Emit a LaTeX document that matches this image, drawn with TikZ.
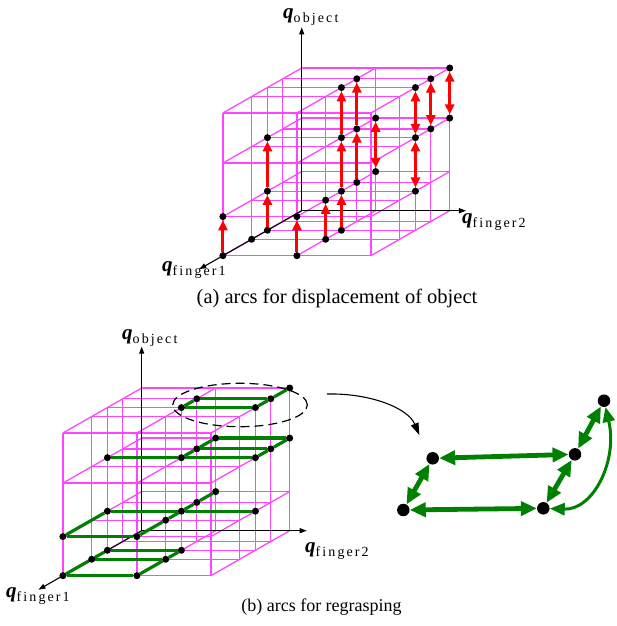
\documentclass[tikz,border=0pt]{standalone}
\usepackage{fontspec}
\setmainfont{Liberation Serif}
\newfontfamily\subfont[LetterSpace=15]{Liberation Serif}
\usetikzlibrary{arrows.meta,shapes.geometric}
\definecolor{gridpink}{RGB}{255,70,255}
\definecolor{arcgreen}{RGB}{0,128,0}
% levels of the lattice along each axis
\newcommand\levA[1]{\ifcase#1 0\or 0.24\or 0.435\or 0.635\or 1\fi}% finger1 (depth)
\newcommand\levB[1]{\ifcase#1 0\or 0.5\or 1\fi}% finger2
\newcommand\levC[1]{\ifcase#1 0\or 0.274\or 0.649\or 1\fi}% object
% lattice point: name, finger1 index, finger2 index, object index
\newcommand\latpt[4]{\node[latdot] (#1) at (\levB{#3},\levC{#4},\levA{#2}) {};}
\newcommand\drawlattice{%
  \foreach \i in {0,...,4}{\foreach \k in {0,...,3}{%
    \draw[gridline] (0,\levC\k,\levA\i) -- (1,\levC\k,\levA\i);}}%
  \foreach \j in {0,1,2}{\foreach \k in {0,...,3}{%
    \draw[gridline] (\levB\j,\levC\k,0) -- (\levB\j,\levC\k,1);}}%
  \foreach \i in {0,...,4}{\foreach \j in {0,1,2}{%
    \draw[gridline] (\levB\j,0,\levA\i) -- (\levB\j,1,\levA\i);}}%
}
\newcommand\qsub[1]{{\fontsize{21}{21}\selectfont\bfseries\itshape q}{\subfont\fontsize{14}{14}\selectfont\raisebox{-4pt}{#1}}}
\begin{document}
\begin{tikzpicture}[x=1pt,y=-1pt,
  gridline/.style={draw=gridpink,line width=1.3pt},
  axisline/.style={draw=black,line width=1.1pt,-{Triangle[length=7pt,width=5pt]}},
  latdot/.style={circle,fill=black,inner sep=0pt,minimum size=7pt},
  bigdot/.style={circle,fill=black,inner sep=0pt,minimum size=12.5pt},
  uparc/.style={draw=red,line width=3pt,-{Triangle[length=10pt,width=9pt]}},
  botharc/.style={draw=red,line width=3pt,{Triangle[length=10pt,width=9pt]}-{Triangle[length=10pt,width=9pt]}},
  grasparc/.style={draw=arcgreen,line width=3.2pt},
  bigarc/.style={draw=arcgreen,line width=4.8pt,{Triangle[length=16pt,width=14pt]}-{Triangle[length=16pt,width=14pt]}},
  bendarc/.style={draw=arcgreen,line width=3pt,{Triangle[length=15pt,width=12pt]}-{Triangle[length=15pt,width=12pt]}},
  qlabel/.style={anchor=base west,inner sep=0pt},
  caption/.style={anchor=base,inner sep=0pt}
]
\useasboundingbox (0,0) rectangle (616,626);

% ---------- (a) displacement of the object ----------
\begin{scope}[shift={(301.7pt,-210.7pt)},x={(148pt,0pt)},y={(0pt,142.7pt)},z={(-78.8pt,-45pt)}]
  \drawlattice
  \coordinate (tO) at (0,0,0);
  \coordinate (tObj) at (0,1.285,0);
  \coordinate (tF2) at (1.11,0,0);
  \coordinate (tF1) at (0,0,1.3);
  \draw[axisline] (tO) -- (tObj);
  \draw[axisline] (tO) -- (tF2);
  \draw[axisline] (tO) -- (tF1);
  \latpt{t400}{4}{0}{0}\latpt{t401}{4}{0}{1}
  \latpt{t300}{3}{0}{0}
  \latpt{t200}{2}{0}{0}\latpt{t201}{2}{0}{1}\latpt{t202}{2}{0}{2}
  \latpt{t410}{4}{1}{0}\latpt{t411}{4}{1}{1}
  \latpt{t310}{3}{1}{0}\latpt{t311}{3}{1}{1}
  \latpt{t210}{2}{1}{0}\latpt{t211}{2}{1}{1}\latpt{t212}{2}{1}{2}\latpt{t213}{2}{1}{3}
  \latpt{t111}{1}{1}{1}\latpt{t112}{1}{1}{2}\latpt{t113}{1}{1}{3}
  \latpt{t011}{0}{1}{1}\latpt{t012}{0}{1}{2}
  \latpt{t221}{2}{2}{1}\latpt{t222}{2}{2}{2}\latpt{t223}{2}{2}{3}
  \latpt{t122}{1}{2}{2}\latpt{t123}{1}{2}{3}
  \latpt{t022}{0}{2}{2}\latpt{t023}{0}{2}{3}
  \draw[uparc] (t400) -- (t401);
  \draw[uparc] (t200) -- (t201);
  \draw[uparc] (t201) -- (t202);
  \draw[uparc] (t410) -- (t411);
  \draw[uparc] (t310) -- (t311);
  \draw[uparc] (t210) -- (t211);
  \draw[uparc] (t211) -- (t212);
  \draw[uparc] (t212) -- (t213);
  \draw[uparc] (t111) -- (t112);
  \draw[uparc] (t112) -- (t113);
  \draw[botharc] (t011) -- (t012);
  \draw[botharc] (t221) -- (t222);
  \draw[botharc] (t222) -- (t223);
  \draw[botharc] (t122) -- (t123);
  \draw[botharc] (t022) -- (t023);
\end{scope}

% ---------- (b) regrasping ----------
\begin{scope}[shift={(141.7pt,-530.7pt)},x={(148pt,0pt)},y={(0pt,142.7pt)},z={(-78.8pt,-45pt)}]
  \drawlattice
  \coordinate (bO) at (0,0,0);
  \coordinate (bObj) at (0,1.29,0);
  \coordinate (bF2) at (1.115,0,0);
  \coordinate (bF1) at (0,0,1.31);
  \draw[axisline] (bO) -- (bObj);
  \draw[axisline] (bO) -- (bF2);
  \draw[axisline] (bO) -- (bF1);
  \latpt{b400}{4}{0}{0}\latpt{b410}{4}{1}{0}\latpt{b300}{3}{0}{0}
  \latpt{b310}{3}{1}{0}\latpt{b200}{2}{0}{0}\latpt{b210}{2}{1}{0}
  \latpt{b401}{4}{0}{1}\latpt{b411}{4}{1}{1}\latpt{b311}{3}{1}{1}
  \latpt{b211}{2}{1}{1}\latpt{b201}{2}{0}{1}\latpt{b111}{1}{1}{1}
  \latpt{b011}{0}{1}{1}\latpt{b221}{2}{2}{1}
  \latpt{b202}{2}{0}{2}\latpt{b212}{2}{1}{2}\latpt{b112}{1}{1}{2}
  \latpt{b012}{0}{1}{2}\latpt{b222}{2}{2}{2}\latpt{b122}{1}{2}{2}
  \latpt{b022}{0}{2}{2}
  \latpt{b113}{1}{1}{3}\latpt{b213}{2}{1}{3}\latpt{b223}{2}{2}{3}
  \latpt{b123}{1}{2}{3}\latpt{b023}{0}{2}{3}
  % object level 0
  \draw[grasparc] (b400) -- (b410);
  \draw[grasparc] (b300) -- (b310);
  \draw[grasparc] (b200) -- (b210);
  \draw[grasparc] (b400) -- (b300) -- (b200);
  \draw[grasparc] (b410) -- (b310) -- (b210);
  % object level 1
  \draw[grasparc] (b401) -- (b411);
  \draw[grasparc] (b201) -- (b211) -- (b221);
  \draw[grasparc] (b401) -- (b201);
  \draw[grasparc] (b411) -- (b311) -- (b211) -- (b111) -- (b011);
  % object level 2
  \draw[grasparc] (b202) -- (b212) -- (b222);
  \draw[grasparc] (b112) -- (b122);
  \draw[grasparc] (b012) -- (b022);
  \draw[grasparc] (b212) -- (b112) -- (b012);
  \draw[grasparc] (b222) -- (b122) -- (b022);
  % object level 3
  \draw[grasparc] (b213) -- (b223);
  \draw[grasparc] (b113) -- (b123);
  \draw[grasparc] (b213) -- (b113);
  \draw[grasparc] (b223) -- (b123) -- (b023);
\end{scope}

% selection of the top level and its enlarged view
\node[draw,ellipse,line width=1.2pt,dash pattern=on 9pt off 5pt,
      minimum width=134.6pt,minimum height=43.4pt,inner sep=0pt] (sel) at (240,405) {};
\coordinate (zs) at (327,394);
\coordinate (ze) at (419.3,435);
\draw[line width=1.1pt,-{Triangle[length=12pt,width=8pt]}] (zs) .. controls (370,393) and (408,408) .. (ze);

\node[bigdot] (r1) at (432.7,458.3) {};
\node[bigdot] (r2) at (403.3,510) {};
\node[bigdot] (r3) at (543.3,508.3) {};
\node[bigdot] (r4) at (575,454.3) {};
\node[bigdot] (r5) at (604,400.7) {};
\draw[bigarc] (r1) -- (r4);
\draw[bigarc] (r2) -- (r3);
\draw[bigarc] (r1) -- (r2);
\draw[bigarc] (r4) -- (r3);
\draw[bigarc] (r4) -- (r5);
\draw[bendarc] (r3) .. controls +(50,2) and +(14,60) .. (r5);

% axis labels
\node[qlabel] (tlObj) at (283,19) {\qsub{object}};
\node[qlabel] (tlF2) at (462,223) {\qsub{finger2}};
\node[qlabel] (tlF1) at (162,271) {\qsub{finger1}};
\node[qlabel] (blObj) at (122,339) {\qsub{object}};
\node[qlabel] (blF2) at (305,552) {\qsub{finger2}};
\node[qlabel] (blF1) at (6,597) {\qsub{finger1}};

% captions
\node[caption,font=\fontsize{20.5}{23}\selectfont] (capa) at (337,303) {(a) arcs for displacement of object};
\node[caption,font=\fontsize{18}{20}\selectfont] (capb) at (321.5,611) {(b) arcs for regrasping};
\end{tikzpicture}
\end{document}
